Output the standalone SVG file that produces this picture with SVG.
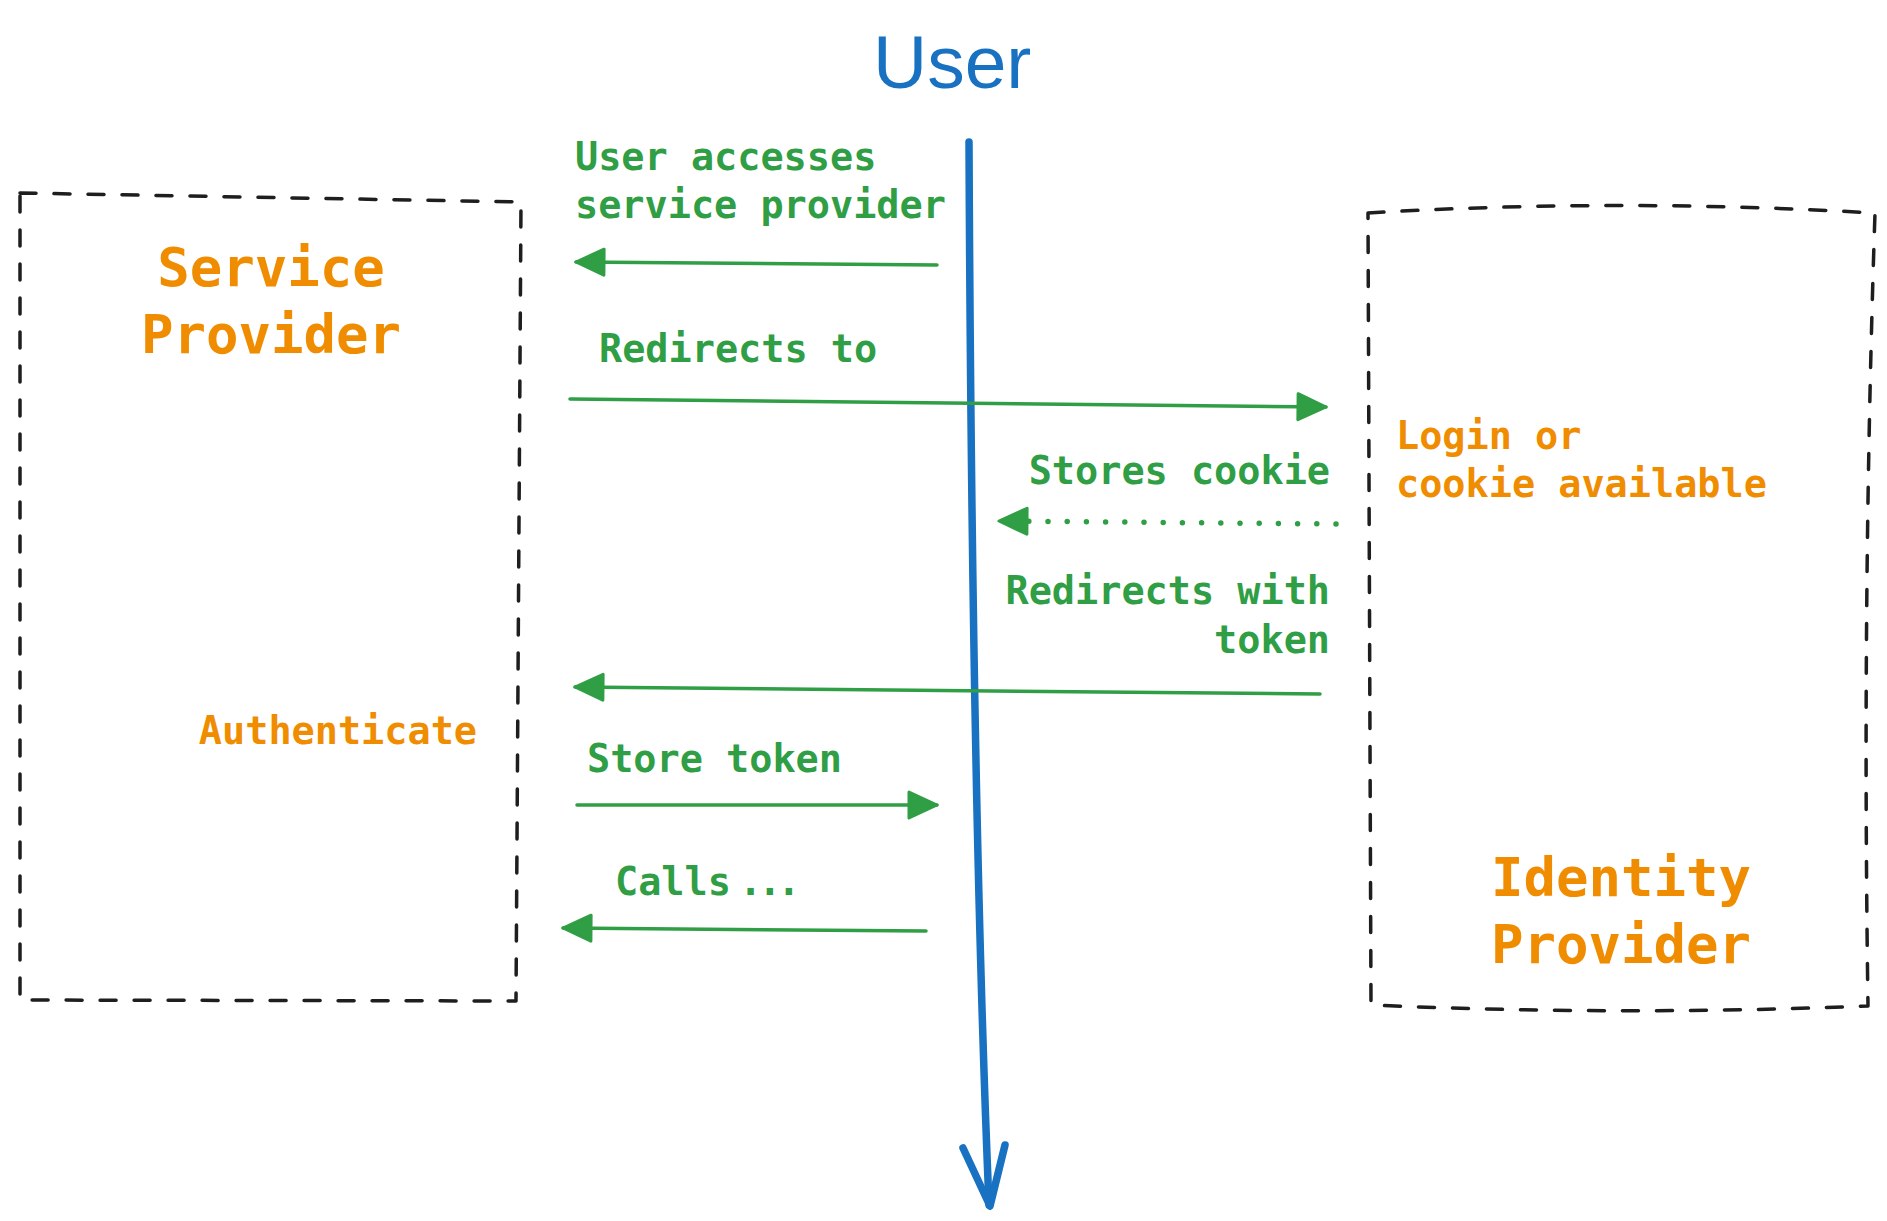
<svg xmlns="http://www.w3.org/2000/svg" width="1887" height="1221" viewBox="0 0 1887 1221">
<style>
.box{fill:none;stroke:#1e1e1e;stroke-width:3.5;stroke-dasharray:16 18;stroke-linecap:round;stroke-linejoin:round}
.title{font-family:"DejaVu Sans Mono","Liberation Mono",monospace;font-size:54px;font-weight:bold;fill:#f08c00;text-anchor:middle}
.o{font-family:"DejaVu Sans Mono","Liberation Mono",monospace;font-size:38.5px;font-weight:bold;fill:#f08c00}
.g{font-family:"DejaVu Sans Mono","Liberation Mono",monospace;font-size:38.5px;font-weight:bold;fill:#2f9e44}
.arr{fill:none;stroke:#2f9e44;stroke-width:3.5;stroke-linecap:round;marker-end:url(#ah)}
.dot{fill:none;stroke:#2f9e44;stroke-width:5.5;stroke-linecap:round;stroke-dasharray:0 19.2;marker-end:url(#ah)}
.life{fill:none;stroke:#1971c2;stroke-width:7.5;stroke-linecap:round;stroke-linejoin:round}
</style>
<defs>
<marker id="ah" markerUnits="userSpaceOnUse" viewBox="0 0 32 30" markerWidth="32" markerHeight="30" refX="30" refY="15" orient="auto">
<path d="M2,2 L30,15 L2,28 Z" fill="#2f9e44" stroke="#2f9e44" stroke-width="3" stroke-linejoin="round" stroke-dasharray="none"/>
</marker>
</defs>
<rect width="1887" height="1221" fill="#ffffff"/>

<g id="service-provider">
<path class="box" d="M20,193 L521,202 L516,1001 L20,1000 Z"/>
<text class="title" x="271" y="286">Service</text>
<text class="title" x="271" y="353">Provider</text>
<text class="o" x="477" y="744" text-anchor="end">Authenticate</text>
</g>

<g id="identity-provider">
<path class="box" d="M1368,213 Q1620,198 1875,213 Q1862,600 1868,1006 Q1620,1016 1371,1005 Z"/>
<text class="title" x="1621" y="896">Identity</text>
<text class="title" x="1621" y="963">Provider</text>
<text class="o" x="1396" y="449">Login or</text>
<text class="o" x="1396" y="497">cookie available</text>
</g>

<g id="user">
<text x="873" y="88" font-family="'Liberation Sans',Arial,sans-serif" font-size="75" fill="#1971c2">User</text>
<path class="life" d="M969,142 Q972,800 989,1205"/>
<path class="life" d="M963,1148 L990,1206 L1005,1145"/>
</g>

<g id="connectors">
<path class="arr" d="M937,265 L576,262"/>
<path class="arr" d="M570,399 L1326,407"/>
<path class="dot" d="M1336,524 L999,521"/>
<path class="arr" d="M1320,694 L575,687"/>
<path class="arr" d="M577,805 L937,805"/>
<path class="arr" d="M926,931 L563,928"/>
</g>

<g id="labels">
<text class="g" x="575" y="170">User accesses</text>
<text class="g" x="575" y="218">service provider</text>
<text class="g" x="599" y="362">Redirects to</text>
<text class="g" x="1330" y="484" text-anchor="end">Stores cookie</text>
<text class="g" x="1330" y="604" text-anchor="end">Redirects with</text>
<text class="g" x="1330" y="653" text-anchor="end">token</text>
<text class="g" x="587" y="772">Store token</text>
<text class="g" x="615" y="895">Calls<tspan x="739" letter-spacing="-4">...</tspan></text>
</g>
</svg>
